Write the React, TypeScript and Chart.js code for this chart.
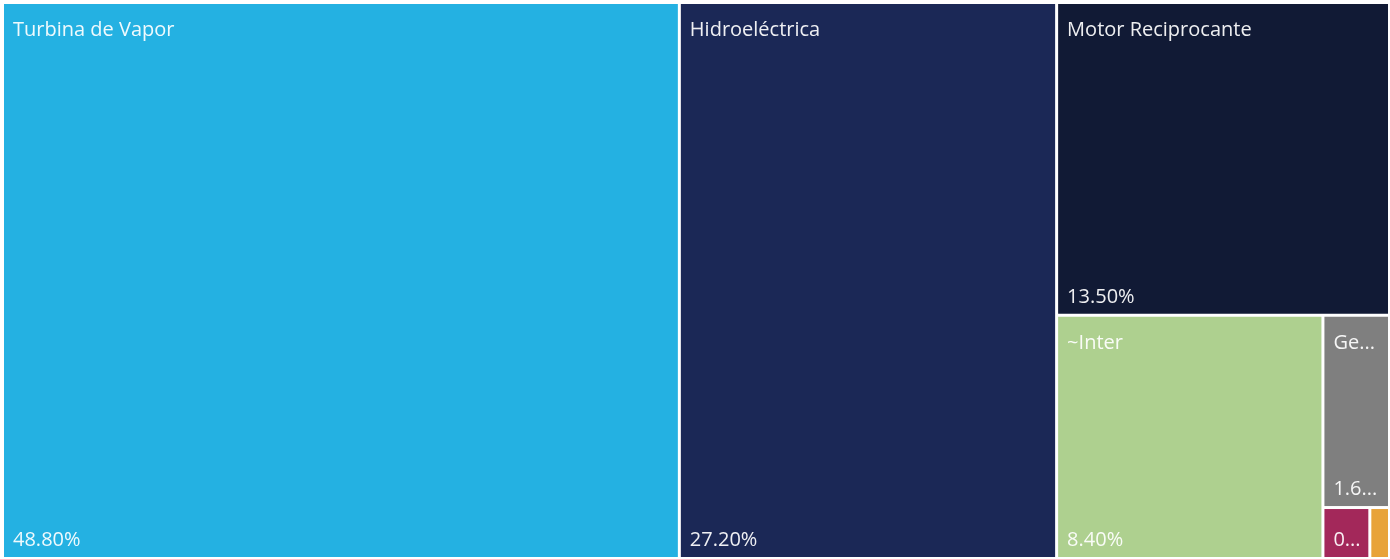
import React, { useEffect, useRef } from "react";
import { Chart, registerables } from "chart.js";

Chart.register(...registerables);

const categories = [
  "Turbina de Vapor",
  "Hidroeléctrica",
  "Motor Reciprocante",
  "~Inter",
  "Geotérmica",
  "Turbina de Gas",
  "Solar",
];
const shares = [48.8, 27.2, 13.5, 8.4, 1.66, 0.31, 0.13];
const colors = ["#24B1E2", "#1B2856", "#111A35", "#AED08F", "#7F7F7F", "#A3285A", "#E8A33A"];

type R = { i: number; x: number; y: number; w: number; h: number };

function worst(row: number[], s: number) {
  const sum = row.reduce((a, b) => a + b, 0);
  const mx = Math.max(...row);
  const mn = Math.min(...row);
  return Math.max((s * s * mx) / (sum * sum), (sum * sum) / (s * s * mn));
}

function squarify(values: number[], W: number, H: number): R[] {
  const total = values.reduce((a, b) => a + b, 0);
  const items = values.map((v, i) => ({ i, a: (v / total) * W * H })).sort((p, q) => q.a - p.a);
  let rx = 0, ry = 0, rw = W, rh = H;
  const out: R[] = [];
  let k = 0;
  while (k < items.length) {
    const s = Math.min(rw, rh);
    const row = [items[k]];
    let j = k + 1;
    while (j < items.length) {
      const cur = row.map((r) => r.a);
      const nxt = cur.concat([items[j].a]);
      if (worst(nxt, s) <= worst(cur, s)) {
        row.push(items[j]);
        j++;
      } else break;
    }
    const sum = row.reduce((a, r) => a + r.a, 0);
    if (rw >= rh) {
      const cw = sum / rh;
      let yy = ry;
      for (const r of row) {
        const hh = r.a / cw;
        out.push({ i: r.i, x: rx, y: yy, w: cw, h: hh });
        yy += hh;
      }
      rx += cw;
      rw -= cw;
    } else {
      const ch = sum / rw;
      let xx = rx;
      for (const r of row) {
        const ww = r.a / ch;
        out.push({ i: r.i, x: xx, y: ry, w: ww, h: ch });
        xx += ww;
      }
      ry += ch;
      rh -= ch;
    }
    k = j;
  }
  return out;
}

function fit(ctx: CanvasRenderingContext2D, text: string, avail: number) {
  if (ctx.measureText(text).width <= avail) return text;
  for (let n = text.length - 1; n >= 1; n--) {
    const t = text.slice(0, n) + "...";
    if (ctx.measureText(t).width <= avail || n === 1) return t;
  }
  return text;
}

const treemapPlugin = {
  id: "treemapCells",
  afterDatasetsDraw(chart: any) {
    const { ctx, chartArea, scales } = chart;
    const W = chartArea.right - chartArea.left;
    const H = chartArea.bottom - chartArea.top;
    const rects = squarify(shares, W, H);
    const gap = 1.5;
    ctx.save();
    for (const r of rects) {
      const x0 = scales.x.getPixelForValue((r.x / W) * 100);
      const x1 = scales.x.getPixelForValue(((r.x + r.w) / W) * 100);
      const y0 = scales.y.getPixelForValue((r.y / H) * 100);
      const y1 = scales.y.getPixelForValue(((r.y + r.h) / H) * 100);
      const left = x0 + gap, right = x1 - gap, top = y0 + gap, bottom = y1 - gap;
      ctx.fillStyle = colors[r.i];
      ctx.fillRect(left, top, right - left, bottom - top);
      const cw = right - left;
      const ch = bottom - top;
      if (cw < 30) continue;
      ctx.font = '20px "Open Sans", "Noto Sans", sans-serif';
      ctx.fillStyle = "rgba(255,255,255,0.93)";
      ctx.textBaseline = "alphabetic";
      ctx.textAlign = "left";
      const avail = cw - 16;
      if (ch > 80) {
        ctx.fillText(fit(ctx, categories[r.i], avail), left + 9, top + 32);
      }
      ctx.fillText(fit(ctx, shares[r.i].toFixed(2) + "%", avail), left + 9, bottom - 11);
    }
    ctx.restore();
  },
};

export default function App() {
  const ref = useRef<HTMLCanvasElement | null>(null);
  useEffect(() => {
    document.body.style.margin = "0";
    const chart = new Chart(ref.current as HTMLCanvasElement, {
      type: "scatter",
      data: { datasets: [{ data: [] }] },
      options: {
        animation: false,
        responsive: false,
        layout: { padding: { left: 2.5, top: 2.5, right: 0.5, bottom: 0.5 } },
        plugins: { legend: { display: false }, tooltip: { enabled: false } },
        scales: {
          x: { type: "linear", min: 0, max: 100, display: false },
          y: { type: "linear", min: 0, max: 100, reverse: true, display: false },
        },
      },
      plugins: [treemapPlugin],
    } as any);
    return () => chart.destroy();
  }, []);
  return (
    <div style={{ position: "absolute", left: 0, top: 0, width: 1390, height: 559, background: "#fff" }}>
      <canvas ref={ref} width={1390} height={559} />
    </div>
  );
}
